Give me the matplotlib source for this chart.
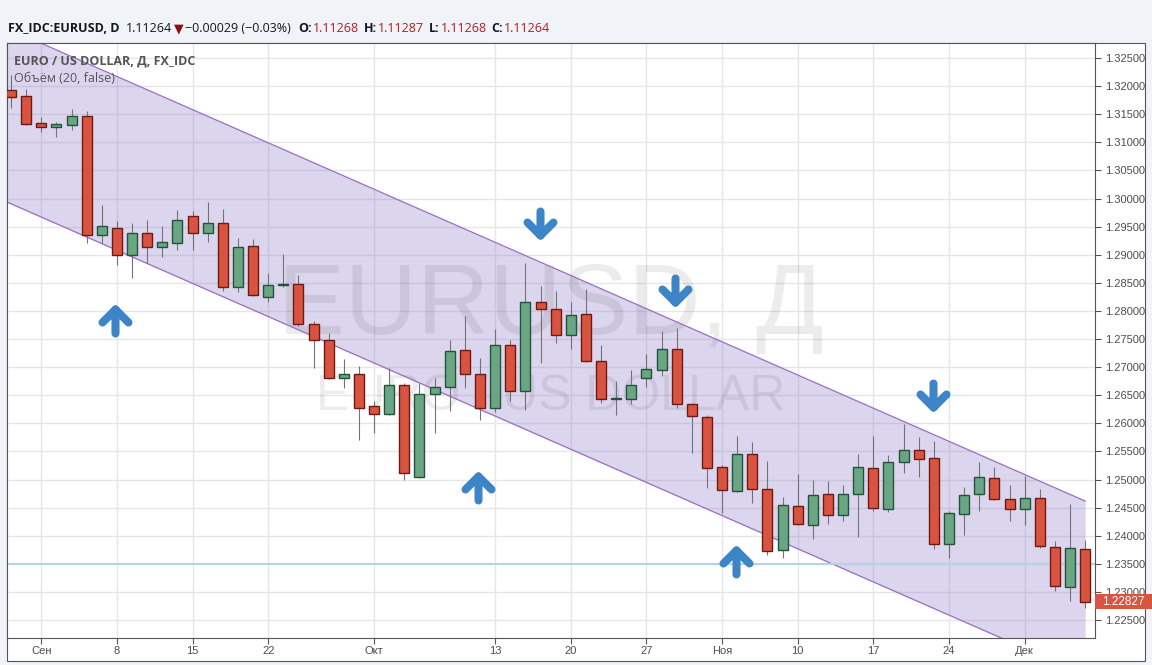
import numpy as np
import matplotlib.pyplot as plt
import matplotlib.transforms as mtransforms
from matplotlib.path import Path
from matplotlib.markers import MarkerStyle
from matplotlib.patches import Rectangle

plt.rcParams['font.family'] = ['Liberation Sans', 'DejaVu Sans']

# Daily EURUSD candles, Aug 28 - Dec 5 2014 (one entry per trading day)
opens = [1.3193, 1.3182, 1.3134, 1.3127, 1.3130, 1.3147, 1.2935, 1.2947, 1.2899, 1.2938,
         1.2914, 1.2921, 1.2969, 1.2939, 1.2956, 1.2843, 1.2915, 1.2824, 1.2846, 1.2847,
         1.2776, 1.2749, 1.2680, 1.2687, 1.2631, 1.2616, 1.2668, 1.2504, 1.2652, 1.2664,
         1.2730, 1.2687, 1.2628, 1.2739, 1.2657, 1.2815, 1.2803, 1.2758, 1.2794, 1.2710,
         1.2643, 1.2644, 1.2680, 1.2694, 1.2732, 1.2634, 1.2612, 1.2523, 1.2479, 1.2545,
         1.2484, 1.2375, 1.2452, 1.2419, 1.2474, 1.2436, 1.2475, 1.2520, 1.2447, 1.2531,
         1.2552, 1.2538, 1.2385, 1.2438, 1.2474, 1.2502, 1.2465, 1.2447, 1.2467, 1.2380,
         1.2308, 1.2376]
highs = [1.3220, 1.3195, 1.3145, 1.3137, 1.3159, 1.3155, 1.2989, 1.2960, 1.2956, 1.2962,
         1.2951, 1.2980, 1.2978, 1.2994, 1.2982, 1.2930, 1.2928, 1.2868, 1.2901, 1.2864,
         1.2782, 1.2760, 1.2714, 1.2702, 1.2640, 1.2698, 1.2671, 1.2671, 1.2681, 1.2748,
         1.2791, 1.2717, 1.2768, 1.2748, 1.2885, 1.2844, 1.2835, 1.2816, 1.2839, 1.2739,
         1.2675, 1.2695, 1.2723, 1.2764, 1.2769, 1.2637, 1.2615, 1.2525, 1.2577, 1.2567,
         1.2533, 1.2468, 1.2510, 1.2499, 1.2497, 1.2490, 1.2545, 1.2577, 1.2544, 1.2599,
         1.2575, 1.2569, 1.2444, 1.2486, 1.2531, 1.2522, 1.2490, 1.2507, 1.2483, 1.2391,
         1.2456, 1.2392]
lows = [1.3161, 1.3131, 1.3119, 1.3110, 1.3122, 1.2920, 1.2921, 1.2882, 1.2859, 1.2885,
        1.2896, 1.2908, 1.2908, 1.2923, 1.2836, 1.2834, 1.2826, 1.2816, 1.2843, 1.2773,
        1.2698, 1.2678, 1.2663, 1.2570, 1.2583, 1.2614, 1.2499, 1.2503, 1.2583, 1.2622,
        1.2663, 1.2606, 1.2621, 1.2640, 1.2624, 1.2707, 1.2743, 1.2732, 1.2709, 1.2637,
        1.2614, 1.2634, 1.2665, 1.2685, 1.2628, 1.2548, 1.2485, 1.2440, 1.2478, 1.2458,
        1.2366, 1.2360, 1.2419, 1.2395, 1.2420, 1.2427, 1.2398, 1.2444, 1.2443, 1.2512,
        1.2505, 1.2376, 1.2361, 1.2401, 1.2444, 1.2464, 1.2427, 1.2419, 1.2378, 1.2302,
        1.2283, 1.2272]
closes = [1.3181, 1.3132, 1.3127, 1.3132, 1.3147, 1.2935, 1.2951, 1.2899, 1.2938, 1.2914,
          1.2922, 1.2961, 1.2939, 1.2956, 1.2843, 1.2913, 1.2828, 1.2846, 1.2848, 1.2776,
          1.2749, 1.2681, 1.2687, 1.2628, 1.2616, 1.2668, 1.2511, 1.2652, 1.2664, 1.2728,
          1.2687, 1.2627, 1.2739, 1.2657, 1.2815, 1.2803, 1.2757, 1.2792, 1.2710, 1.2643,
          1.2645, 1.2668, 1.2696, 1.2732, 1.2634, 1.2613, 1.2520, 1.2481, 1.2545, 1.2484,
          1.2372, 1.2454, 1.2420, 1.2472, 1.2436, 1.2475, 1.2522, 1.2449, 1.2531, 1.2552,
          1.2537, 1.2386, 1.2440, 1.2472, 1.2504, 1.2465, 1.2447, 1.2467, 1.2382, 1.2310,
          1.2378, 1.22827]

# x axis labels (index of trading day)
tick_idx = [2, 7, 12, 17, 24, 32, 37, 42, 47, 52, 57, 62, 67]
tick_labels = ['Сен', '8', '15', '22', 'Окт', '13', '20', '27', 'Ноя', '10', '17', '24', 'Дек']

# drawn channel (start / end)
chan_x = [-1, 71]
chan_upper = [1.33116, 1.24617]
chan_lower = [1.30024, 1.21525]

# horizontal level
level = 1.235

# arrows drawn on the chart
up_x = [6.9, 30.9, 47.9]
up_y = [1.2782, 1.2485, 1.2353]
down_x = [34.95, 43.9, 60.95]
down_y = [1.2956, 1.2837, 1.2650]

W, H = 1152, 665
fig = plt.figure(figsize=(W / 100, H / 100), dpi=100, facecolor='#f0f3f7')

# white panel behind chart + scales
fig.patches.append(Rectangle((7 / W, 1 - 661 / H), (1145 - 7) / W, (661 - 43) / H,
                             transform=fig.transFigure, facecolor='white',
                             edgecolor='#555555', lw=0.8, zorder=-5))

ax = fig.add_axes([7 / W, 1 - 638 / H, (1095 - 7) / W, (638 - 43) / H])
ax.set_facecolor('white')

x = np.arange(len(opens))
o = np.array(opens)
c = np.array(closes)
up = c >= o

# channel
ax.fill_between(chan_x, chan_lower, chan_upper, color='#7a5fbf', alpha=0.26, lw=0, zorder=1)
ax.plot(chan_x, chan_upper, color='#9b6cc2', lw=0.9, zorder=2)
ax.plot(chan_x, chan_lower, color='#9b6cc2', lw=0.9, zorder=2)

# level line
ax.axhline(level, color='#b4d4e6', lw=1.5, zorder=2)

# watermark
ax.text(0.5, 0.554, 'EURUSD, Д', transform=ax.transAxes, ha='center', va='center',
        fontsize=72, color='black', alpha=0.075, zorder=1.5)
ax.text(0.5, 0.4055, 'EURO / US DOLLAR', transform=ax.transAxes, ha='center', va='center',
        fontsize=36, color='black', alpha=0.075, zorder=1.5)

# candles
ax.vlines(x, lows, highs, color='#737373', lw=0.8, zorder=3)
ax.bar(x[up], (c - o)[up], bottom=o[up], width=0.66, color='#6aa684',
       edgecolor='#23533a', lw=1.0, zorder=4)
ax.bar(x[~up], (o - c)[~up], bottom=c[~up], width=0.66, color='#d85440',
       edgecolor='#6e1a12', lw=1.0, zorder=4)

# arrows
verts = [(0, -12), (0, 12), (-13, -1), (0, 12), (13, -1)]
codes = [Path.MOVETO, Path.LINETO, Path.MOVETO, Path.LINETO, Path.LINETO]
arrow_up = MarkerStyle(Path(verts, codes), capstyle='round', joinstyle='round')
arrow_down = MarkerStyle(Path([(vx, -vy) for vx, vy in verts], codes),
                         capstyle='round', joinstyle='round')
ax.plot(up_x, up_y, ls='none', marker=arrow_up, ms=18.7, mfc='none',
        mec='#3d85c6', mew=5.8, zorder=5)
ax.plot(down_x, down_y, ls='none', marker=arrow_down, ms=18.7, mfc='none',
        mec='#3d85c6', mew=5.8, zorder=5)

# axes
ax.set_xlim(-0.264, 71.65)
ax.set_ylim(1.22180, 1.32767)
ax.set_xticks(tick_idx)
ax.set_xticklabels(tick_labels)
yt = np.arange(1.225, 1.3251, 0.005)
ax.set_yticks(yt)
ax.set_yticklabels(['%.5f' % v for v in yt])
ax.yaxis.tick_right()
ax.tick_params(axis='both', length=4, width=0.8, color='#555555', labelsize=8,
               labelcolor='#4d4d4d')
ax.tick_params(axis='y', pad=3)
ax.tick_params(axis='x', pad=2)
ax.grid(True, color='#e6e6e6', lw=1)
ax.set_axisbelow(True)
for s in ax.spines.values():
    s.set_color('#555555')
    s.set_linewidth(0.8)

# legend text
ax.text(7 / 1088, 1 - 18 / 595, 'EURO / US DOLLAR, Д, FX_IDC', transform=ax.transAxes,
        ha='left', va='center', fontsize=9, weight='bold', color='#555555', zorder=6,
        family=['Open Sans', 'DejaVu Sans'])
ax.text(7 / 1088, 1 - 35 / 595, 'Объём (20, false)', transform=ax.transAxes,
        ha='left', va='center', fontsize=9, color='#555555', zorder=6,
        family=['Open Sans', 'DejaVu Sans'])

# last price label
trans = mtransforms.blended_transform_factory(ax.transAxes, ax.transData)
half = 7.5 / 5620
ax.add_patch(Rectangle((1.0, closes[-1] - half), 57 / 1088, 2 * half, transform=trans,
                       facecolor='#d9553f', edgecolor='none', clip_on=False, zorder=10))
ax.text(1.0 + 7.0 / 1088, closes[-1], '%.5f' % closes[-1], transform=trans, ha='left',
        va='center', fontsize=8.5, color='white', clip_on=False, zorder=11)

# header line
black = '#131722'
red = '#b71c1c'
header_parts = [
    ('FX_IDC:EURUSD, D', 'bold', black, 0),
    ('1.11264', 'normal', black, 6),
    ('▼', 'normal', '#8b0d0d', 2),
    ('−0.00029 (−0.03%)', 'normal', black, 2),
    ('O:', 'bold', black, 7),
    ('1.11268', 'normal', red, 1),
    ('H:', 'bold', black, 5),
    ('1.11287', 'normal', red, 1),
    ('L:', 'bold', black, 5),
    ('1.11268', 'normal', red, 1),
    ('C:', 'bold', black, 5),
    ('1.11264', 'normal', red, 1),
]
renderer = fig.canvas.get_renderer()
px = 8
for txt, wt, col, gap in header_parts:
    px += gap
    t = fig.text(px / W, 1 - 29 / H, txt, fontsize=9, weight=wt, color=col,
                 ha='left', va='center', family=['Open Sans', 'DejaVu Sans'])
    px += t.get_window_extent(renderer).width

fig.savefig('out.png', dpi=100, facecolor=fig.get_facecolor())
